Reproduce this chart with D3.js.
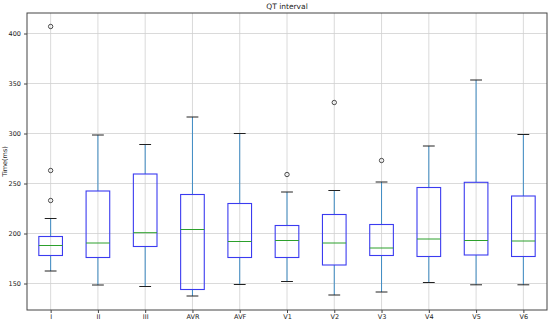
<!DOCTYPE html>
<html><head><meta charset="utf-8">
<script src="https://cdn.jsdelivr.net/npm/d3@7"></script>
<style>body{margin:0;background:#fff}svg{display:block}</style>
</head><body><svg id="c" width="550" height="322"></svg>
<script>
const categories = ["I","II","III","AVR","AVF","V1","V2","V3","V4","V5","V6"];
const whiskerLow  = [162.5,148.5,147,137.5,149,152,138.5,141.5,151,148.7,148.7];
const q1          = [178,176,187,144,176,176,168.5,178,177,178.5,177];
const medians     = [188,190.5,200.8,204,192,193,190.5,185.5,194.5,193,192.5];
const q3          = [197,242.5,259.5,239,230,208,219,209,246,251.2,237.5];
const whiskerHigh = [215,298.5,289,316.5,300,241.5,243,251.5,287.5,353.5,299];
const outliers    = [[233,263,407],[],[],[],[],[259],[331],[273],[],[],[]];
const yTicks = [150,200,250,300,350,400];

const W=550,H=322, L=27, R=547, T=13, B=310;
const svg=d3.select("#c");
const x=d3.scaleLinear().domain([0.5,11.5]).range([L,R]);
const y=d3.scaleLinear().domain([123.5,420.5]).range([B,T]);
const bw=(x(1.25)-x(0.75)), cw=bw/2;

svg.append("g").selectAll("line").data(yTicks).join("line")
  .attr("x1",L).attr("x2",R).attr("y1",d=>y(d)).attr("y2",d=>y(d))
  .attr("stroke","#d0d0d0").attr("stroke-width",0.8);
svg.append("g").selectAll("line").data(categories).join("line")
  .attr("x1",(d,i)=>x(i+1)).attr("x2",(d,i)=>x(i+1)).attr("y1",T).attr("y2",B)
  .attr("stroke","#d0d0d0").attr("stroke-width",0.8);

const g=svg.append("g");
categories.forEach((c,i)=>{
  const cx=x(i+1);
  g.append("line").attr("x1",cx).attr("x2",cx).attr("y1",y(q3[i])).attr("y2",y(whiskerHigh[i])).attr("stroke","#3f8cc4").attr("stroke-width",1);
  g.append("line").attr("x1",cx).attr("x2",cx).attr("y1",y(q1[i])).attr("y2",y(whiskerLow[i])).attr("stroke","#3f8cc4").attr("stroke-width",1);
  [whiskerHigh[i],whiskerLow[i]].forEach(v=>g.append("line").attr("x1",cx-cw/2).attr("x2",cx+cw/2).attr("y1",y(v)).attr("y2",y(v)).attr("stroke","#222").attr("stroke-width",1));
  g.append("rect").attr("x",cx-bw/2).attr("width",bw).attr("y",y(q3[i])).attr("height",y(q1[i])-y(q3[i]))
    .attr("fill","none").attr("stroke","#3b3bf0").attr("stroke-width",1.1);
  g.append("line").attr("x1",cx-bw/2).attr("x2",cx+bw/2).attr("y1",y(medians[i])).attr("y2",y(medians[i])).attr("stroke","#2ca02c").attr("stroke-width",1);
  outliers[i].forEach(v=>g.append("circle").attr("cx",cx).attr("cy",y(v)).attr("r",2.2).attr("fill","none").attr("stroke","#222").attr("stroke-width",0.8));
});

svg.append("rect").attr("x",L).attr("y",T).attr("width",R-L).attr("height",B-T).attr("fill","none").attr("stroke","#444").attr("stroke-width",1);

const ya=svg.append("g").attr("transform",`translate(${L},0)`).call(d3.axisLeft(y).tickValues(yTicks).tickSize(3).tickPadding(3));
const xa=svg.append("g").attr("transform",`translate(0,${B})`).call(d3.axisBottom(x).tickValues(d3.range(1,12)).tickFormat(d=>categories[d-1]).tickSize(3).tickPadding(1));
[ya,xa].forEach(a=>{a.select(".domain").remove();a.selectAll("line").attr("stroke","#444");a.selectAll("text").attr("font-size",6.5).attr("font-family","DejaVu Sans").attr("fill","#222");});

svg.append("text").attr("x",(L+R)/2).attr("y",9).attr("text-anchor","middle").attr("font-size",7.5).attr("font-family","DejaVu Sans").attr("fill","#222").text("QT interval");
svg.append("text").attr("transform",`translate(7,${(T+B)/2}) rotate(-90)`).attr("text-anchor","middle").attr("font-size",6.5).attr("font-family","DejaVu Sans").attr("fill","#222").text("Time(ms)");
</script></body></html>
